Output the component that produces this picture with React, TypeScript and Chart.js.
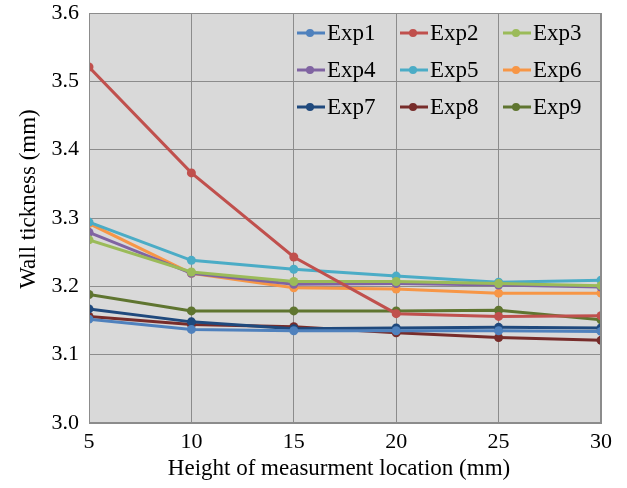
import React, { useEffect, useRef } from "react";
import { Chart, registerables } from "chart.js";

Chart.register(...registerables);

const heights = [5, 10, 15, 20, 25, 30];
const seriesNames = ["Exp1", "Exp2", "Exp3", "Exp4", "Exp5", "Exp6", "Exp7", "Exp8", "Exp9"];
const seriesColors = ["#4F81BD", "#C0504D", "#9BBB59", "#8064A2", "#4BACC6", "#F79646", "#1F497D", "#772C2A", "#5F7530"];
const exp1 = [3.152, 3.137, 3.135, 3.135, 3.135, 3.134];
const exp2 = [3.521, 3.366, 3.243, 3.16, 3.156, 3.157];
const exp3 = [3.268, 3.221, 3.207, 3.207, 3.204, 3.201];
const exp4 = [3.279, 3.219, 3.203, 3.204, 3.202, 3.199];
const exp5 = [3.294, 3.238, 3.225, 3.215, 3.206, 3.209];
const exp6 = [3.292, 3.219, 3.198, 3.196, 3.19, 3.19];
const exp7 = [3.167, 3.148, 3.138, 3.139, 3.14, 3.139];
const exp8 = [3.156, 3.144, 3.141, 3.132, 3.125, 3.121];
const exp9 = [3.188, 3.164, 3.164, 3.164, 3.165, 3.151];
const seriesValues = [exp1, exp2, exp3, exp4, exp5, exp6, exp7, exp8, exp9];
const yTickLabels = ["3.0", "3.1", "3.2", "3.3", "3.4", "3.5", "3.6"];
const xTitle = "Height of measurment location (mm)";
const yTitle = "Wall tickness (mm)";

const FONT = "'Liberation Serif', 'Times New Roman', serif";

const plotBg = {
  id: "plotBg",
  beforeDraw(chart: any) {
    const { ctx, chartArea } = chart;
    ctx.save();
    ctx.fillStyle = "#D9D9D9";
    ctx.fillRect(chartArea.left, chartArea.top, chartArea.right - chartArea.left, chartArea.bottom - chartArea.top);
    ctx.restore();
  },
  afterDraw(chart: any) {
    const { ctx, chartArea } = chart;
    ctx.save();
    ctx.strokeStyle = "#8C8C8C";
    ctx.lineWidth = 1;
    ctx.strokeRect(chartArea.left + 0.5, chartArea.top + 0.5, chartArea.right - chartArea.left - 1, chartArea.bottom - chartArea.top - 1);
    // axis titles
    ctx.fillStyle = "#000";
    ctx.textAlign = "center";
    ctx.textBaseline = "middle";
    ctx.font = `23px ${FONT}`;
    ctx.fillText(xTitle, 339, 469);
    ctx.translate(29, 199);
    ctx.rotate(-Math.PI / 2);
    ctx.font = `23px ${FONT}`;
    ctx.fillText(yTitle, 0, 0);
    ctx.restore();
  },
};

const customLegend = {
  id: "customLegend",
  afterDatasetsDraw(chart: any) {
    const { ctx, chartArea } = chart;
    const colX = [chartArea.left + 208, chartArea.left + 311, chartArea.left + 414];
    const rowY = [chartArea.top + 20, chartArea.top + 57, chartArea.top + 94];
    ctx.save();
    ctx.font = `23px ${FONT}`;
    ctx.textBaseline = "middle";
    ctx.textAlign = "left";
    chart.data.datasets.forEach((ds: any, i: number) => {
      const x = colX[i % 3];
      const y = rowY[Math.floor(i / 3)];
      ctx.strokeStyle = ds.borderColor;
      ctx.lineWidth = 3;
      ctx.beginPath();
      ctx.moveTo(x, y);
      ctx.lineTo(x + 28, y);
      ctx.stroke();
      ctx.fillStyle = ds.borderColor;
      ctx.beginPath();
      ctx.arc(x + 13, y, 4, 0, Math.PI * 2);
      ctx.fill();
      ctx.fillStyle = "#000";
      ctx.fillText(ds.label, x + 30, y + 1);
    });
    ctx.restore();
  },
};

export default function App() {
  const ref = useRef<HTMLCanvasElement>(null);
  useEffect(() => {
    if (!ref.current) return;
    const chart = new Chart(ref.current, {
      type: "line",
      data: {
        datasets: seriesNames.map((name, i) => ({
          label: name,
          data: heights.map((h, j) => ({ x: h, y: seriesValues[i][j] })),
          borderColor: seriesColors[i],
          backgroundColor: seriesColors[i],
          pointBackgroundColor: seriesColors[i],
          pointBorderColor: seriesColors[i],
          borderWidth: 3,
          pointRadius: 4.5,
          pointBorderWidth: 0,
          tension: 0,
        })),
      },
      options: {
        animation: false,
        responsive: false,
        maintainAspectRatio: false,
        layout: { padding: { left: 0, right: 26, top: 13, bottom: 0 } },
        plugins: {
          legend: { display: false },
          tooltip: { enabled: false },
        },
        scales: {
          x: {
            type: "linear",
            min: 5,
            max: 30,
            afterFit(scale: any) {
              scale.height = 65;
              scale.paddingLeft = 0;
              scale.paddingRight = 0;
            },
            ticks: {
              stepSize: 5,
              color: "#000",
              font: { family: FONT, size: 22 },
              padding: 6,
              maxRotation: 0,
            },
            grid: { color: "#8C8C8C", lineWidth: 1, drawTicks: false },
            border: { color: "#8C8C8C" },
          },
          y: {
            type: "linear",
            min: 3.0,
            max: 3.6,
            afterFit(scale: any) {
              scale.width = 89;
              scale.paddingTop = 0;
              scale.paddingBottom = 0;
            },
            ticks: {
              stepSize: 0.1,
              color: "#000",
              font: { family: FONT, size: 22 },
              padding: 10,
              callback: (v: any) => {
                const idx = Math.round((Number(v) - 3.0) * 10);
                return yTickLabels[idx] ?? "";
              },
            },
            grid: { color: "#8C8C8C", lineWidth: 1, drawTicks: false },
            border: { color: "#8C8C8C" },
          },
        },
      },
      plugins: [plotBg, customLegend],
    });
    return () => chart.destroy();
  }, []);
  return (
    <div style={{ position: "fixed", left: 0, top: 0, width: 627, height: 488, background: "#fff" }}>
      <canvas ref={ref} width={627} height={488} />
    </div>
  );
}
